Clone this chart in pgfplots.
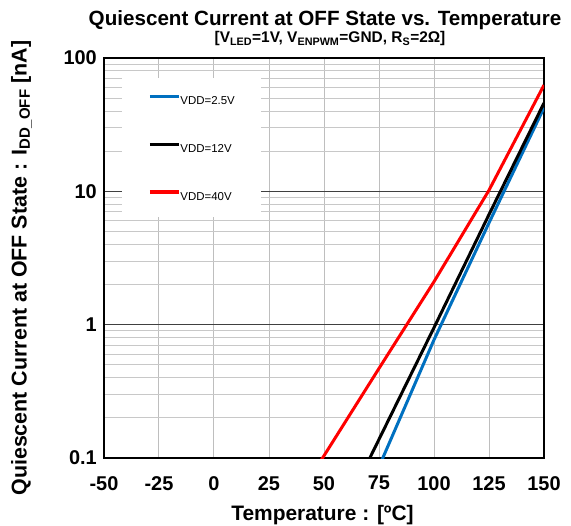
\documentclass[border=0pt]{standalone}
\usepackage{fontspec}
\setmainfont{Liberation Sans}
\usepackage{pgfplots}
\pgfplotsset{compat=1.18}
\definecolor{vblue}{RGB}{0,112,192}
\definecolor{gridgray}{RGB}{190,190,190}
\begin{document}
\begin{tikzpicture}
\begin{axis}[
  scale only axis, width=440bp, height=400bp,
  at={(0,0)}, anchor=south west,
  ymode=log,
  xmin=-50, xmax=150, ymin=0.1, ymax=100,
  xtick={-50,-25,0,25,50,75,100,125,150},
  xticklabels={-50,-25,0,25,50,75,100,125,150},
  ytick={0.1,1,10,100},
  yticklabels={0.1,1,10,100},
  minor ytick={0.2,0.3,0.4,0.5,0.6,0.7,0.8,0.9,2,3,4,5,6,7,8,9,20,30,40,50,60,70,80,90},
  major tick length=0pt, minor tick length=0pt,
  xmajorgrids, ymajorgrids, yminorgrids,
  x grid style={gridgray, line width=1bp},
  y grid style={black!75, line width=1.2bp},
  minor y grid style={gridgray!85, line width=1bp},
  axis line style={black, line width=2.2bp},
  /pgf/number format/assume math mode=true,
  xticklabel style={font=\bfseries\fontsize{20}{20}\selectfont, anchor=north, inner sep=0pt, yshift=-18bp},
  yticklabel style={font=\bfseries\fontsize{20}{20}\selectfont, anchor=east, inner sep=0pt, xshift=-7bp},
  xlabel={Temperature : [ºC]},
  xlabel style={font=\bfseries\fontsize{21}{21}\selectfont, at={(axis description cs:0.4966,-0.155)}, anchor=base, inner sep=0pt},
  ylabel={Quiescent Current at OFF State : I\textsubscript{DD\_OFF} [nA]},
  ylabel style={font=\bfseries\fontsize{21.5}{21.5}\selectfont, at={(axis description cs:-0.1761,0.475)}, anchor=base, inner sep=0pt},
  legend style={at={(0.041,0.95)}, anchor=north west, draw=none, fill=white,
    inner xsep=26bp, inner ysep=16.5bp, row sep=38bp, column sep=0bp,
    font=\fontsize{11.5}{12}\selectfont,
    nodes={inner sep=0pt, text height=8.2bp, text depth=0pt}},
  legend cell align=left,
  legend image code/.code={\draw[#1, line width=3.2bp] (0bp,4.1bp) -- (29bp,4.1bp);},
]
\addplot[vblue, line width=3bp] coordinates {(50,0.011) (75,0.086) (100,0.77) (125,5.8) (150,42.4)};
\addlegendentry{VDD=2.5V}
\addplot[black, line width=3bp] coordinates {(50,0.02) (75,0.138) (100,0.95) (125,6.7) (150,46)};
\addlegendentry{VDD=12V}
\addplot[red, line width=3bp] coordinates {(25,0.024) (50,0.104) (75,0.47) (100,2.1) (125,10.2) (150,62.7)};
\addlegendentry{VDD=40V}
\end{axis}
\node[anchor=base, inner sep=0pt, font=\bfseries\fontsize{20.7}{20.7}\selectfont] at (221bp,432bp) {Quiescent Current at OFF State vs. Temperature};
\node[anchor=base, inner sep=0pt, font=\bfseries\fontsize{15.5}{15.5}\selectfont] at (226bp,415bp) {[V\textsubscript{LED}=1V, V\textsubscript{ENPWM}=GND, R\textsubscript{S}=2Ω]};
\pgfresetboundingbox
\path[use as bounding box] (-104bp,-68bp) rectangle (467bp,458bp);
\end{tikzpicture}
\end{document}
